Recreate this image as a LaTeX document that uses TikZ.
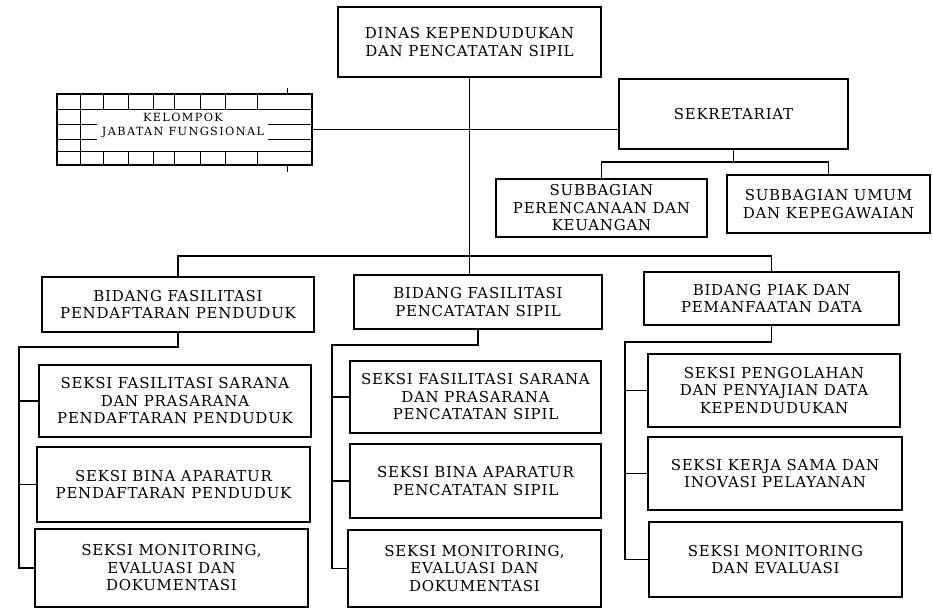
\documentclass[tikz,border=0pt]{standalone}
\usepackage{fontspec}
\setmainfont{DejaVu Serif}[LetterSpace=5]
\newfontfamily\kjffont{DejaVu Serif}[LetterSpace=12]

\begin{document}
\begin{tikzpicture}
    [ x=1pt, y=-1pt
    , line width=1.1pt
    , box/.style 2 args={draw, align=center, inner sep=0pt, minimum width=#1pt, minimum height=#2pt, font=\fontsize{15}{17.5}\selectfont}
    , kjflabel/.style={align=center, inner sep=0pt, font=\kjffont\fontsize{11.3}{14}\selectfont}
    ]
\useasboundingbox (0,0) rectangle (933,608);
\node[box={263}{70}] (dinas) at (469.5,42) {DINAS KEPENDUDUKAN\\DAN PENCATATAN SIPIL};
\node[box={255}{71}] (kjf) at (184.5,129.5) {};
\node[kjflabel] (kjftext) at (183,125) {KELOMPOK\\JABATAN FUNGSIONAL};
\node[box={229}{70}] (sekr) at (733.5,114) {SEKRETARIAT};
\node[box={211}{58}] (sub1) at (601.5,208) {SUBBAGIAN\\PERENCANAAN DAN\\KEUANGAN};
\node[box={203}{58}] (sub2) at (828.5,204) {SUBBAGIAN UMUM\\DAN KEPEGAWAIAN};
\node[box={272}{55}] (bid1) at (178,304.5) {BIDANG FASILITASI\\PENDAFTARAN PENDUDUK};
\node[box={248}{54}] (bid2) at (478,302) {BIDANG FASILITASI\\PENCATATAN SIPIL};
\node[box={255}{53}] (bid3) at (771.5,298.5) {BIDANG PIAK DAN\\PEMANFAATAN DATA};
\node[box={272}{72}] (s11) at (175,401) {SEKSI FASILITASI SARANA\\DAN PRASARANA\\PENDAFTARAN PENDUDUK};
\node[box={273}{75}] (s12) at (173.5,484.5) {SEKSI BINA APARATUR\\PENDAFTARAN PENDUDUK};
\node[box={273}{78}] (s13) at (171.5,568) {SEKSI MONITORING,\\EVALUASI DAN\\DOKUMENTASI};
\node[box={251}{72}] (s21) at (475.5,397) {SEKSI FASILITASI SARANA\\DAN PRASARANA\\PENCATATAN SIPIL};
\node[box={251}{74}] (s22) at (475.5,481) {SEKSI BINA APARATUR\\PENCATATAN SIPIL};
\node[box={253}{77}] (s23) at (474.5,568.5) {SEKSI MONITORING,\\EVALUASI DAN\\DOKUMENTASI};
\node[box={252}{73}] (s31) at (774,390.5) {SEKSI PENGOLAHAN\\DAN PENYAJIAN DATA\\KEPENDUDUKAN};
\node[box={254}{73}] (s32) at (775,473.5) {SEKSI KERJA SAMA DAN\\INOVASI PELAYANAN};
\node[box={253}{75}] (s33) at (775.5,559.5) {SEKSI MONITORING\\DAN EVALUASI};

\begin{scope}[line width=0.9pt]
\draw (57,109) -- (312,109) (57,151) -- (312,151) (80,94) -- (80,165);
\draw (57,124) -- (97,124) (268,124) -- (312,124) (57,139) -- (97,139) (268,139) -- (312,139);
\foreach \x in {103,128,153,174,200,225,257}
  \draw (\x,94) -- (\x,109) (\x,151) -- (\x,165);
\draw (287,88) -- (287,94) (287,165) -- (287,172);
\end{scope}

\coordinate (top) at (469.5,256);
\coordinate (subbar) at (716,162);
\coordinate (bus1) at (19,347);
\coordinate (bus2) at (332,345);
\coordinate (bus3) at (625,342);

\draw (dinas) -- (dinas |- bid2.north);
\draw (kjf.east) -- (kjf.east -| sekr.west);
\draw (sekr.south) |- (subbar);
\draw (sub1.north) |- (subbar) -| (sub2.north);
\draw (bid1.north) |- (top) -| (bid3.north);
\draw (bid1.south) |- (bus1) |- (s13.west);
\draw (bid2.south) |- (bus2) |- (s23.west);
\draw (bid3.south) |- (bus3) |- (s33.west);
\foreach \s/\b in {s11/bus1,s12/bus1,s21/bus2,s22/bus2,s31/bus3,s32/bus3}
  \draw (\b |- \s.west) -- (\s.west);
\end{tikzpicture}
\end{document}
